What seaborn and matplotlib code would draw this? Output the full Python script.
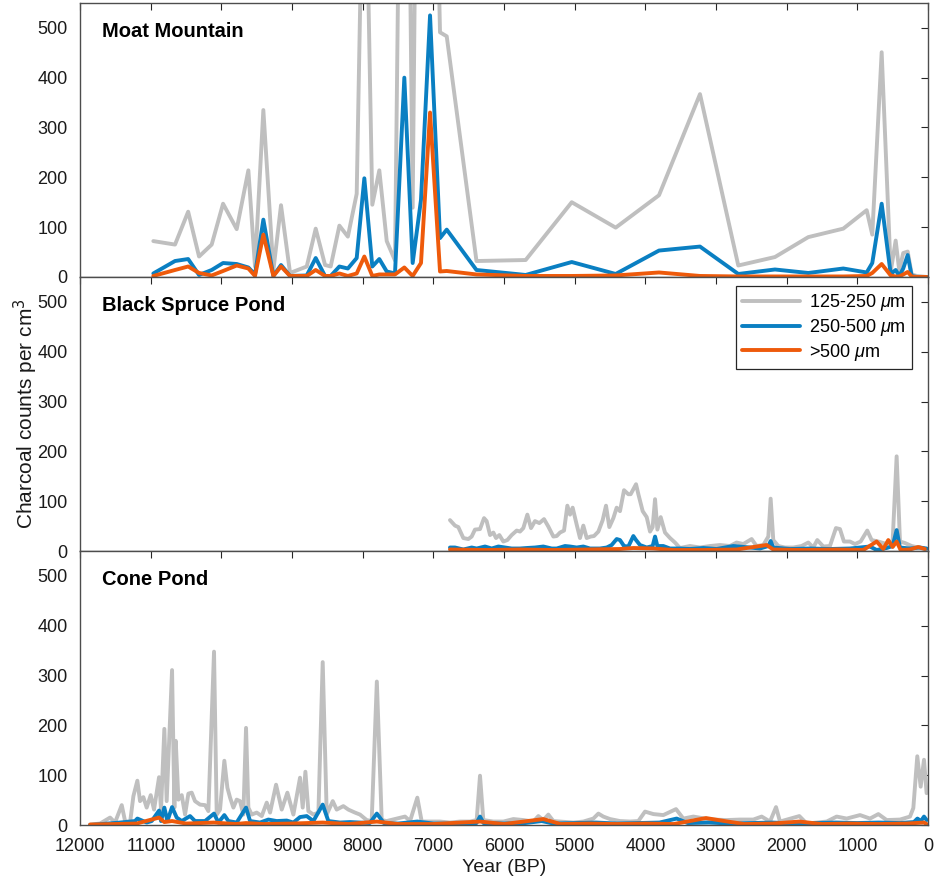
# Charcoal records from three New England sites
import numpy as np
import pandas as pd
import matplotlib
matplotlib.use("Agg")
import matplotlib.pyplot as plt
import seaborn as sns
from matplotlib.lines import Line2D

# ---------------- data ----------------
size_labels = ["125-250 $\\mu$m", "250-500 $\\mu$m", ">500 $\\mu$m"]
site_names = ["Moat Mountain", "Black Spruce Pond", "Cone Pond"]

# Moat Mountain (shared sample ages)
mm_year = [10963, 10656, 10470, 10316, 10137, 9976, 9783, 9618, 9524, 9406,
           9264, 9156, 9028, 8792, 8665, 8533, 8453, 8330, 8210, 8085,
           7977, 7864, 7765, 7660, 7543, 7411, 7293, 7175, 7047, 6906,
           6811, 6390, 5694, 5042, 4420, 3807, 3227, 2685, 2166, 1694,
           1199, 868, 789, 656, 528, 458, 407, 351, 288, 231, 160, 19]
mm_gray = [72, 65, 131, 41, 65, 147, 96, 214, 21, 335,
           14, 144, 8, 21, 97, 24, 21, 103, 81, 167,
           1000, 145, 214, 72, 33, 1700, 139, 1900, 1400, 491,
           483, 32, 34, 150, 99, 164, 367, 23, 40, 80,
           97, 134, 85, 451, 11, 73, 13, 48, 51, 5, 2, 0]
mm_blue = [7, 32, 36, 4, 14, 28, 26, 19, 5, 115,
           2, 24, 2, 3, 38, 2, 2, 21, 17, 38,
           198, 21, 36, 11, 7, 400, 28, 155, 525, 78,
           95, 14, 4, 30, 6, 53, 61, 6, 15, 8,
           17, 9, 28, 147, 6, 14, 2, 17, 44, 2, 0, 0]
mm_orange = [2, 14, 21, 8, 3, 12, 23, 17, 2, 85,
             2, 21, 2, 2, 14, 2, 2, 7, 2, 7,
             41, 2, 5, 5, 5, 19, 2, 28, 330, 11,
             12, 5, 2, 2, 3, 9, 2, 1, 1, 1,
             1, 2, 8, 26, 3, 1, 1, 5, 10, 1, 0, 0]

# Black Spruce Pond
bsp_gray_year = [6765, 6694, 6647, 6576, 6505, 6458, 6411, 6340, 6283, 6246,
                 6198, 6151, 6113, 6066, 6010, 5953, 5892, 5821, 5774, 5727,
                 5670, 5618, 5562, 5500, 5434, 5373, 5302, 5255, 5208, 5151,
                 5104, 5066, 5029, 4972, 4925, 4878, 4830, 4774, 4727, 4665,
                 4604, 4557, 4510, 4453, 4406, 4359, 4302, 4241, 4208, 4132,
                 4099, 4038, 3981, 3934, 3897, 3863, 3830, 3783, 3722, 3651,
                 3581, 3510, 3369, 3227, 3086, 2944, 2803, 2709, 2614, 2496,
                 2426, 2331, 2260, 2227, 2190, 2119, 2025, 1907, 1789, 1694,
                 1624, 1567, 1482, 1388, 1303, 1246, 1190, 1105, 1034, 954,
                 860, 798, 704, 586, 501, 444, 397, 326, 232, 138, 67, 20]
bsp_gray = [62, 51, 48, 26, 24, 29, 43, 44, 66, 60,
            32, 37, 26, 32, 19, 22, 32, 41, 39, 46,
            73, 46, 60, 56, 64, 49, 29, 30, 37, 41,
            91, 73, 87, 53, 26, 51, 26, 29, 30, 39,
            62, 91, 48, 66, 87, 80, 122, 114, 114, 134,
            114, 80, 68, 39, 48, 104, 43, 68, 37, 26,
            17, 6, 10, 7, 10, 12, 10, 17, 14, 24,
            10, 12, 29, 105, 22, 10, 7, 7, 10, 17,
            7, 22, 9, 10, 46, 44, 19, 19, 14, 19,
            41, 22, 19, 14, 19, 190, 19, 16, 10, 7, 5, 3]
bsp_blue_year = [6765, 6694, 6576, 6458, 6387, 6269, 6175, 6080, 5986, 5892,
                 5774, 5680, 5562, 5444, 5326, 5255, 5137, 5066, 4972, 4878,
                 4783, 4642, 4547, 4477, 4406, 4359, 4302, 4241, 4170, 4132,
                 4076, 3981, 3897, 3863, 3830, 3746, 3651, 3510, 3369, 3180,
                 2992, 2756, 2520, 2378, 2260, 2227, 2190, 1954, 1671, 1388,
                 1105, 822, 727, 586, 501, 444, 397, 256, 114, 20]
bsp_blue = [7, 7, 3, 7, 5, 9, 5, 9, 7, 5,
            5, 6, 7, 9, 5, 5, 10, 9, 7, 9,
            5, 5, 7, 12, 24, 22, 10, 9, 30, 22,
            12, 7, 10, 29, 10, 10, 5, 5, 4, 6,
            4, 10, 7, 5, 10, 20, 7, 4, 5, 4,
            5, 9, 2, 6, 10, 42, 7, 5, 7, 5]
bsp_orange_year = [6765, 6246, 5774, 5302, 4830, 4359, 4170, 3887, 3604, 3180,
                   2709, 2284, 2190, 1765, 1294, 916, 727, 633, 562, 501,
                   444, 388, 256, 138, 44]
bsp_orange = [3, 2, 3, 2, 3, 4, 6, 5, 2, 2,
              3, 12, 3, 2, 3, 2, 19, 4, 22, 8,
              19, 2, 3, 8, 4]

# Cone Pond
cp_gray_year = [11858, 11717, 11575, 11505, 11410, 11363, 11292, 11245, 11189, 11151,
                11104, 11057, 11000, 10953, 10882, 10854, 10807, 10774, 10698, 10665,
                10646, 10608, 10561, 10514, 10467, 10420, 10373, 10302, 10231, 10184,
                10104, 10066, 10019, 9958, 9915, 9877, 9830, 9783, 9736, 9689,
                9651, 9618, 9571, 9500, 9429, 9358, 9311, 9226, 9146, 9066,
                8981, 8887, 8849, 8811, 8769, 8698, 8627, 8566, 8509, 8424,
                8368, 8274, 8203, 8109, 8038, 7944, 7873, 7800, 7731, 7661,
                7519, 7401, 7330, 7227, 7165, 7047, 6906, 6764, 6623, 6481,
                6387, 6340, 6293, 6151, 6010, 5868, 5727, 5585, 5514, 5444,
                5373, 5302, 5208, 5019, 4878, 4736, 4665, 4595, 4500, 4359,
                4217, 4099, 4005, 3887, 3746, 3566, 3463, 3321, 3156, 3038,
                2849, 2661, 2472, 2354, 2236, 2151, 2095, 1821, 1717, 1434,
                1293, 1151, 962, 821, 703, 585, 396, 255, 208, 152,
                104, 57, 20]
cp_gray = [1, 3, 15, 5, 40, 8, 5, 58, 89, 48,
           56, 35, 60, 31, 96, 31, 193, 48, 311, 35,
           169, 51, 60, 21, 63, 65, 48, 41, 40, 28,
           348, 21, 31, 129, 75, 55, 35, 51, 48, 21,
           195, 35, 21, 25, 18, 45, 25, 81, 31, 65,
           21, 95, 35, 107, 28, 21, 25, 327, 21, 48,
           31, 38, 31, 25, 21, 10, 8, 288, 10, 8,
           13, 17, 8, 55, 7, 7, 7, 5, 7, 7,
           10, 99, 10, 7, 7, 12, 10, 7, 18, 10,
           21, 8, 7, 5, 7, 13, 23, 17, 12, 8,
           7, 8, 27, 22, 20, 32, 13, 17, 13, 11,
           10, 11, 11, 17, 7, 36, 7, 18, 3, 7,
           17, 13, 20, 13, 22, 10, 11, 17, 34, 138,
           77, 131, 64]
cp_blue_year = [11858, 11434, 11222, 11189, 11057, 10986, 10882, 10854, 10807, 10764,
                10698, 10632, 10561, 10443, 10373, 10231, 10104, 10042, 9958, 9901,
                9783, 9651, 9594, 9453, 9335, 9217, 9075, 8981, 8887, 8792,
                8698, 8566, 8486, 8321, 8179, 8038, 7900, 7800, 7700, 7500,
                7227, 7000, 6700, 6390, 6340, 6290, 6000, 5700, 5467, 5300,
                5000, 4700, 4400, 4100, 3800, 3557, 3400, 3100, 2800, 2500,
                2200, 1900, 1600, 1300, 1000, 700, 400, 200, 150, 100,
                57, 20]
cp_blue = [0, 5, 8, 13, 5, 8, 29, 8, 35, 8,
           36, 15, 8, 18, 8, 8, 23, 5, 20, 8,
           5, 35, 8, 5, 11, 8, 9, 5, 16, 18,
           8, 41, 8, 5, 6, 5, 4, 23, 4, 3,
           7, 3, 3, 4, 17, 4, 3, 4, 8, 3,
           4, 5, 3, 4, 5, 13, 4, 5, 3, 4,
           5, 3, 4, 5, 4, 5, 4, 6, 13, 8,
           17, 10]
cp_orange_year = [11858, 11500, 11200, 10882, 10807, 10698, 10500, 10104, 9800, 9651,
                  9400, 9000, 8566, 8200, 7800, 7500, 7000, 6340, 6000, 5444,
                  5200, 4800, 4400, 4000, 3600, 3142, 2880, 2600, 2200, 1821,
                  1500, 1100, 700, 300, 57, 20]
cp_orange = [1, 2, 3, 15, 6, 8, 3, 5, 2, 4,
             2, 3, 5, 2, 7, 2, 2, 7, 2, 12,
             2, 3, 2, 3, 2, 14, 8, 2, 3, 7,
             2, 3, 2, 3, 5, 2]

# ---------------- tidy table ----------------
def series(site, size, years, values):
    return pd.DataFrame({"site": site, "size": size,
                         "year": years, "count": values})

df = pd.concat([
    series(site_names[0], size_labels[0], mm_year, mm_gray),
    series(site_names[0], size_labels[1], mm_year, mm_blue),
    series(site_names[0], size_labels[2], mm_year, mm_orange),
    series(site_names[1], size_labels[0], bsp_gray_year, bsp_gray),
    series(site_names[1], size_labels[1], bsp_blue_year, bsp_blue),
    series(site_names[1], size_labels[2], bsp_orange_year, bsp_orange),
    series(site_names[2], size_labels[0], cp_gray_year, cp_gray),
    series(site_names[2], size_labels[1], cp_blue_year, cp_blue),
    series(site_names[2], size_labels[2], cp_orange_year, cp_orange),
], ignore_index=True)

# ---------------- plot ----------------
sns.set_style("white")
plt.rcParams["font.family"] = ["Liberation Sans", "DejaVu Sans"]
plt.rcParams["mathtext.fontset"] = "custom"
plt.rcParams["mathtext.it"] = "Liberation Sans:italic"
plt.rcParams["text.color"] = "black"

palette = {size_labels[0]: "#bfbfbf",
           size_labels[1]: "#0a7fc2",
           size_labels[2]: "#ee5a0b"}
lw = 2.8

fig = plt.figure(figsize=(9.34, 8.86), dpi=100)
left, width = 0.0857, 0.9079
bottom0, h = 0.0688, 0.3093
axes = [fig.add_axes([left, bottom0 + (2 - i) * h, width, h]) for i in range(3)]

for ax, site in zip(axes, site_names):
    sub = df[df["site"] == site]
    sns.lineplot(data=sub, x="year", y="count", hue="size",
                 hue_order=size_labels, palette=palette,
                 estimator=None, sort=False, linewidth=lw,
                 legend=False, ax=ax)
    ax.set_xlim(12000, 0)
    ax.set_ylim(0, 550)
    ax.set_xticks(np.arange(12000, -1, -1000))
    ax.set_yticks(np.arange(0, 501, 100))
    ax.tick_params(direction="in", length=5, width=0.8, color="#262626",
                   labelcolor="#1a1a1a", top=True, right=True, labelsize=13)
    ax.tick_params(axis="y", pad=9)
    ax.tick_params(axis="x", pad=9)
    for sp in ax.spines.values():
        sp.set_color("#4d4d4d")
        sp.set_linewidth(1.0)
    ax.set_xlabel("")
    ax.set_ylabel("")
    ax.text(0.026, 0.895, site, transform=ax.transAxes, va="center",
            ha="left", fontsize=14.5, fontweight="bold", color="black")
    if ax is not axes[-1]:
        ax.tick_params(labelbottom=False)

axes[-1].set_xlabel("Year (BP)", fontsize=14, labelpad=3, color="#1a1a1a")
axes[1].set_ylabel("Charcoal counts per cm$^3$", fontsize=15, labelpad=-2,
                   color="#1a1a1a")

handles = [Line2D([], [], color=palette[s], lw=lw) for s in size_labels]
leg = axes[1].legend(handles, size_labels, loc="upper right",
                     bbox_to_anchor=(0.981, 0.967), borderaxespad=0,
                     fontsize=13, handlelength=3.2, fancybox=False,
                     framealpha=1, edgecolor="#262626",
                     borderpad=0.35, labelspacing=0.2, handletextpad=0.5)
leg.get_frame().set_linewidth(0.9)

fig.savefig("out.png", dpi=100)
